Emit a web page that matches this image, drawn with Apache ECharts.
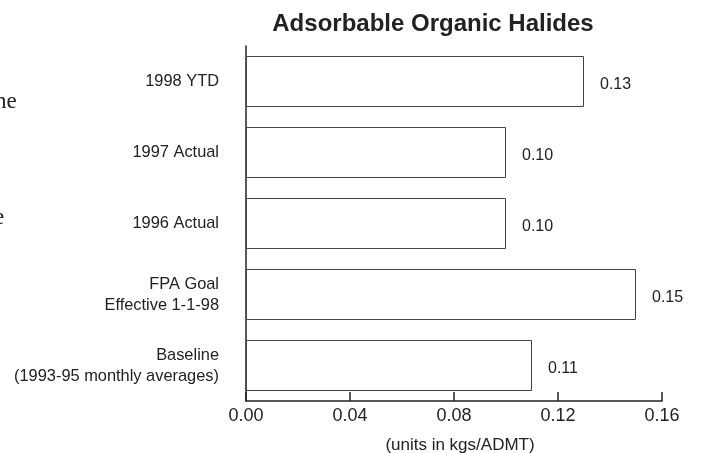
<!DOCTYPE html>
<html>
<head>
<meta charset="utf-8">
<script src="https://cdn.jsdelivr.net/npm/echarts@6/dist/echarts.min.js"></script>
<style>html,body{margin:0;padding:0;background:#fff;}#c{width:702px;height:453px;}</style>
</head>
<body>
<div id="c"></div>
<script>
var categories = ['Baseline\n(1993-95 monthly averages)', 'FPA Goal\nEffective 1-1-98', '1996 Actual', '1997 Actual', '1998 YTD'];
var values = [0.11, 0.15, 0.10, 0.10, 0.13];
var xTicks = [0, 0.04, 0.08, 0.12, 0.16];
var titleText = 'Adsorbable Organic Halides';
var unitText = '(units in kgs/ADMT)';

var FONT = 'Liberation Sans, Arial, sans-serif';
var chart = echarts.init(document.getElementById('c'), null, {renderer: 'canvas'});
chart.setOption({
  animation: false,
  backgroundColor: '#fff',
  textStyle: {fontFamily: FONT},
  grid: {left: 246, right: 40, top: 46, bottom: 52, containLabel: false},
  xAxis: {
    type: 'value', min: xTicks[0], max: xTicks[xTicks.length - 1], interval: 0.04,
    axisLine: {show: true, lineStyle: {color: '#222', width: 1.5}},
    axisTick: {show: true, inside: true, length: 9, lineStyle: {color: '#222', width: 1.5}},
    splitLine: {show: false},
    axisLabel: {fontSize: 18, color: '#222', margin: 6, formatter: function (v) { return v.toFixed(2); }}
  },
  yAxis: {
    type: 'category', data: categories,
    axisLine: {show: true, lineStyle: {color: '#222', width: 1.5}},
    axisTick: {show: false},
    axisLabel: {fontSize: 16.4, color: '#222', margin: 27, lineHeight: 21, align: 'right'}
  },
  series: [{
    type: 'bar', data: values, barWidth: 51,
    itemStyle: {color: '#fff', borderColor: '#444', borderWidth: 1},
    label: {show: true, position: 'right', distance: 16, offset: [0, 3], fontSize: 16, color: '#222',
      formatter: function (p) { return p.value.toFixed(2); }}
  }],
  graphic: [
    {type: 'text', style: {text: titleText, x: 433, y: 24, textAlign: 'center', textVerticalAlign: 'middle', fontSize: 24, fontWeight: 'bold', fill: '#222', fontFamily: FONT}},
    {type: 'text', style: {text: unitText, x: 460, y: 445, textAlign: 'center', textVerticalAlign: 'middle', fontSize: 17, fill: '#222', fontFamily: FONT}},
    {type: 'text', style: {text: 'ne', x: -5, y: 102, textVerticalAlign: 'middle', fontSize: 23, fill: '#222', fontFamily: 'Liberation Serif, serif'}},
    {type: 'text', style: {text: 'e', x: -6, y: 218, textVerticalAlign: 'middle', fontSize: 23, fill: '#222', fontFamily: 'Liberation Serif, serif'}}
  ]
});
</script>
</body>
</html>
